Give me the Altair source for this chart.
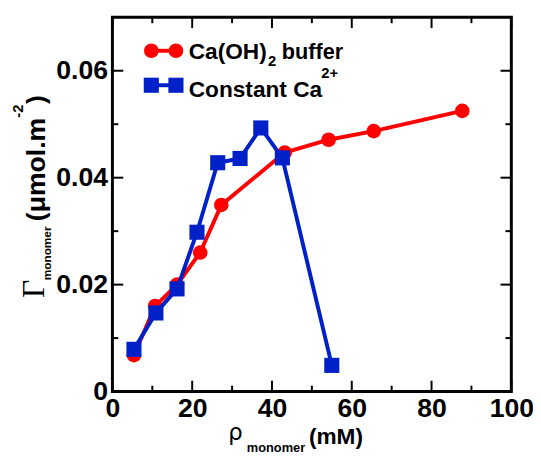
import altair as alt
import pandas as pd

# ---- data ----
buffer_x = [5.4, 10.7, 16.2, 22.0, 27.3, 43.2, 54.2, 65.5, 87.7]
buffer_y = [0.0068, 0.0160, 0.0200, 0.0260, 0.0349, 0.0447, 0.0471, 0.0487, 0.0525]
const_x = [5.4, 10.9, 16.2, 21.2, 26.4, 32.0, 37.2, 42.6, 55.0]
const_y = [0.0079, 0.0147, 0.0192, 0.0298, 0.0428, 0.0436, 0.0493, 0.0437, 0.0049]

x_major = [0, 20, 40, 60, 80, 100]
x_minor = [10, 30, 50, 70, 90]
y_major = [0, 0.02, 0.04, 0.06]
y_minor = [0.01, 0.03, 0.05]

RED = "#ff0000"
BLUE = "#0020c8"
W, H = 405, 380
FONT = "Liberation Sans"

xs = alt.Scale(domain=[0, 100], nice=False, zero=False)
ys = alt.Scale(domain=[0, 0.07], nice=False, zero=False)

df_b = pd.DataFrame({"x": buffer_x, "y": buffer_y})
df_c = pd.DataFrame({"x": const_x, "y": const_y})

xaxis = alt.Axis(values=x_major, ticks=False, domain=False, grid=False, title=None,
                 labelFont=FONT, labelFontWeight="bold", labelFontSize=27,
                 labelColor="black", labelPadding=4, labelFlush=False, labelOverlap=False)
yaxis = alt.Axis(values=y_major, ticks=False, domain=False, grid=False, title=None,
                 labelFont=FONT, labelFontWeight="bold", labelFontSize=27,
                 labelColor="black", labelPadding=5, labelFlush=False, labelOverlap=False,
                 labelExpr="datum.value == 0 ? '0' : format(datum.value, '.2f')")

base_b = alt.Chart(df_b)
base_c = alt.Chart(df_c)

line_b = base_b.mark_line(color=RED, strokeWidth=4).encode(
    x=alt.X("x:Q", scale=xs, axis=xaxis), y=alt.Y("y:Q", scale=ys, axis=yaxis))
pts_b = base_b.mark_point(shape="circle", filled=True, color=RED, opacity=1, size=220).encode(
    x=alt.X("x:Q", scale=xs), y=alt.Y("y:Q", scale=ys))
line_c = base_c.mark_line(color=BLUE, strokeWidth=4).encode(
    x=alt.X("x:Q", scale=xs), y=alt.Y("y:Q", scale=ys))
pts_c = base_c.mark_point(shape="square", filled=True, color=BLUE, opacity=1, size=235).encode(
    x=alt.X("x:Q", scale=xs), y=alt.Y("y:Q", scale=ys))

# ---- inward ticks on all four sides ----
def xticks(vals, length):
    d = pd.DataFrame({"v": vals})
    bot = alt.Chart(d).mark_rule(color="black", strokeWidth=2).encode(
        x=alt.X("v:Q", scale=xs), y=alt.value(H - length), y2=alt.value(H))
    top = alt.Chart(d).mark_rule(color="black", strokeWidth=2).encode(
        x=alt.X("v:Q", scale=xs), y=alt.value(0), y2=alt.value(length))
    return [bot, top]

def yticks(vals, length):
    d = pd.DataFrame({"v": vals})
    left = alt.Chart(d).mark_rule(color="black", strokeWidth=2).encode(
        y=alt.Y("v:Q", scale=ys), x=alt.value(0), x2=alt.value(length))
    right = alt.Chart(d).mark_rule(color="black", strokeWidth=2).encode(
        y=alt.Y("v:Q", scale=ys), x=alt.value(W - length), x2=alt.value(W))
    return [left, right]

ticks = xticks(x_major, 11) + xticks(x_minor, 6) + yticks(y_major, 11) + yticks(y_minor, 6)

one = pd.DataFrame({"a": [0]})

# ---- text helper ----
def txt(s, x, y, size, weight="bold", font=FONT, angle=0):
    return alt.Chart(pd.DataFrame({"t": [s]})).mark_text(
        align="left", baseline="alphabetic", font=font, fontSize=size,
        fontWeight=weight, color="black", angle=angle).encode(
        text="t:N", x=alt.value(x), y=alt.value(y))

def legpt(shape, color, size, x, y):
    return alt.Chart(one).mark_point(shape=shape, filled=True, color=color, opacity=1, size=size).encode(
        x=alt.value(x), y=alt.value(y))

# legend
leg = [
    alt.Chart(one).mark_rule(color=RED, strokeWidth=4).encode(
        x=alt.value(39.5), x2=alt.value(64.5), y=alt.value(34)),
    legpt("circle", RED, 220, 39.5, 34),
    legpt("circle", RED, 220, 64.5, 34),
    alt.Chart(one).mark_rule(color=BLUE, strokeWidth=4).encode(
        x=alt.value(39.5), x2=alt.value(64.5), y=alt.value(69)),
    legpt("square", BLUE, 235, 39.5, 69),
    legpt("square", BLUE, 235, 64.5, 69),
    txt("Ca(OH)", 77.5, 42, 23),
    txt("2", 158, 49, 15),
    txt("buffer", 172, 42, 22),
    txt("Constant Ca", 77.5, 81, 23),
    txt("2+", 212, 62, 15),
]

# axis titles
titles = [
    txt("\u0393", -69.5, 285, 32, weight="normal", font="Liberation Serif", angle=270),
    txt("monomer", -62.5, 267, 12, angle=270),
    txt("(\u03bcmol.m", -68.5, 207, 27, angle=270),
    txt("-2", -90.5, 102, 15, angle=270),
    txt(")", -68.5, 88, 27, angle=270),
    txt("\u03c1", 117.5, 429, 23, weight="normal", font="DejaVu Sans"),
    txt("monomer", 136.5, 441, 13),
    txt("(mM)", 199.5, 433, 23),
]

chart = alt.layer(line_b, pts_b, line_c, pts_c, *ticks, *leg, *titles).properties(
    width=W, height=H,
    autosize=alt.AutoSizeParams(type="none"),
    padding={"left": 106, "top": 6, "right": 22, "bottom": 62},
    background="white",
).configure_view(stroke="black", strokeWidth=3)

chart.save("out.html", embed_options={"renderer": "svg", "actions": False})
